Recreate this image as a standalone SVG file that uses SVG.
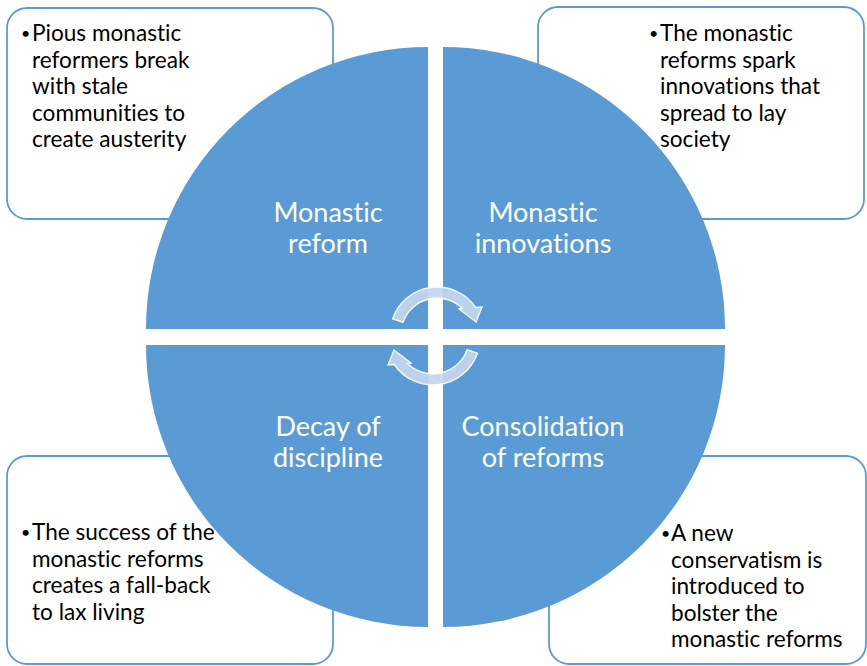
<svg xmlns="http://www.w3.org/2000/svg" width="867" height="666" viewBox="0 0 867 666">
<style>
.box{fill:#FFFFFF;stroke:#5B9BD5;stroke-width:1.8}
.quad{fill:#5B9BD5}
.body{font-family:Lato,"Liberation Sans",sans-serif;font-size:22.6px;fill:#000000;font-variant-ligatures:none;font-feature-settings:"liga" 0}
.bul{font-family:Lato,"Liberation Sans",sans-serif;font-size:16px;fill:#000000}
.label{font-family:Lato,"Liberation Sans",sans-serif;font-size:27px;fill:#FFFFFF;text-anchor:middle;font-variant-ligatures:none;font-feature-settings:"liga" 0}
.arrow{fill:#C3D6EE;fill-opacity:0.92;stroke:#FFFFFF;stroke-width:1.4;stroke-opacity:0.9}
</style>
<rect width="867" height="666" fill="#FFFFFF"/>
<g id="box-tl">
<rect class="box" x="7" y="8" width="326" height="211" rx="20"/>
<text class="bul" x="21" y="39">•</text>
<text class="body"><tspan x="32" y="41">Pious monastic</tspan><tspan x="32" y="67.6">reformers break</tspan><tspan x="32" y="94.2">with stale</tspan><tspan x="32" y="120.8">communities to</tspan><tspan x="32" y="147.4">create austerity</tspan></text>
</g>
<g id="box-tr">
<rect class="box" x="538" y="7" width="326" height="212" rx="20"/>
<text class="bul" x="649" y="39">•</text>
<text class="body"><tspan x="660" y="41">The monastic</tspan><tspan x="660" y="67.6">reforms spark</tspan><tspan x="660" y="94.2">innovations that</tspan><tspan x="660" y="120.8">spread to lay</tspan><tspan x="660" y="147.4">society</tspan></text>
</g>
<g id="box-bl">
<rect class="box" x="7" y="456" width="326" height="208" rx="20"/>
<text class="bul" x="21" y="538">•</text>
<text class="body"><tspan x="32" y="540">The success of the</tspan><tspan x="32" y="566.6">monastic reforms</tspan><tspan x="32" y="593.2">creates a fall-back</tspan><tspan x="32" y="619.8">to lax living</tspan></text>
</g>
<g id="box-br">
<rect class="box" x="549" y="456" width="317" height="208" rx="20"/>
<text class="bul" x="661" y="539">•</text>
<text class="body"><tspan x="671" y="541">A new</tspan><tspan x="671" y="567.6">conservatism is</tspan><tspan x="671" y="594.2">introduced to</tspan><tspan x="671" y="620.8">bolster the</tspan><tspan x="671" y="647.4">monastic reforms</tspan></text>
</g>
<g id="monastic-reform">
<path class="quad" d="M428,329 L146,329 A282,282 0 0 1 428,47 Z"/>
<text class="label"><tspan x="328" y="222">Monastic</tspan><tspan x="328" y="253">reform</tspan></text>
</g>
<g id="monastic-innovations">
<path class="quad" d="M443,329 L443,47 A282,282 0 0 1 725,329 Z"/>
<text class="label"><tspan x="543" y="222">Monastic</tspan><tspan x="543" y="253">innovations</tspan></text>
</g>
<g id="consolidation-of-reforms">
<path class="quad" d="M443,345 L725,345 A282,282 0 0 1 443,627 Z"/>
<text class="label"><tspan x="543" y="436">Consolidation</tspan><tspan x="543" y="467">of reforms</tspan></text>
</g>
<g id="decay-of-discipline">
<path class="quad" d="M428,627 A282,282 0 0 1 146,345 L428,345 Z"/>
<text class="label"><tspan x="328" y="436">Decay of</tspan><tspan x="328" y="467">discipline</tspan></text>
</g>
<g id="connectors">
<path class="arrow" d="M392.6,318.7 A47,47 0 0 1 475.8,307.5 L482,307 L476,322 L459,309 L462.4,308.5 A36,36 0 0 0 403,322.3 Z"/>
<path class="arrow" d="M477.4,353.3 A47,47 0 0 1 394.2,364.5 L388,365 L394,350 L411,363 L407.6,363.5 A36,36 0 0 0 467,349.7 Z"/>
</g>
</svg>
